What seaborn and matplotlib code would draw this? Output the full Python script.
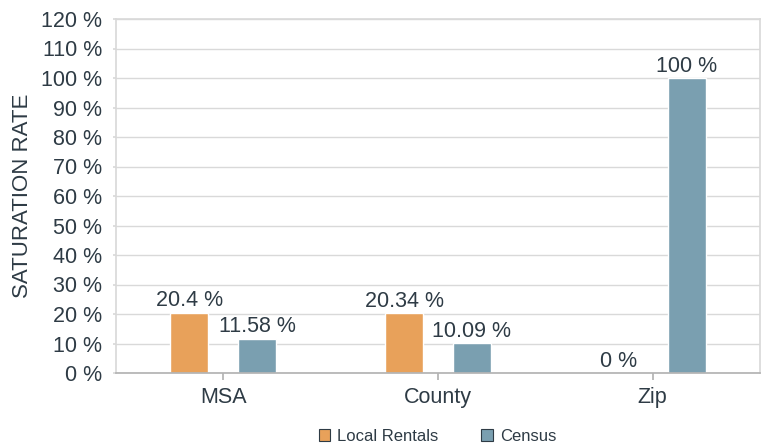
import pandas as pd
import matplotlib.pyplot as plt
import seaborn as sns
from matplotlib.patches import Patch

sns.set_theme(style="white")
plt.rcParams['font.family'] = ['Liberation Sans', 'DejaVu Sans']

categories = ["MSA", "County", "Zip"]
local_rentals = [20.4, 20.34, 0]
census = [11.58, 10.09, 100]
series_names = ["Local Rentals", "Census"]
colors = ["#E8A15A", "#7A9FB0"]
text_color = "#2E3B45"

df = pd.DataFrame({
    "area": categories * 2,
    "value": local_rentals + census,
    "series": [series_names[0]] * 3 + [series_names[1]] * 3,
})

fig = plt.figure(figsize=(7.62, 4.43), dpi=100)
ax = fig.add_axes([116 / 762, 1 - 373 / 443, 644 / 762, 354 / 443])

sns.barplot(
    data=df,
    x="area",
    y="value",
    hue="series",
    palette=colors,
    width=0.632,
    gap=0.44,
    saturation=1,
    legend=False,
    ax=ax
)

for cont in ax.containers:
    labels = [("%g %%" % v) for v in cont.datavalues]
    ax.bar_label(cont, labels=labels, padding=1, fontsize=15.5, color=text_color)

ax.set_ylim(0, 120)
ax.set_yticks(range(0, 121, 10))
ax.set_yticklabels(["%d %%" % t for t in range(0, 121, 10)])
ax.grid(axis="y", color="#D9D9D9", linewidth=1)
ax.set_axisbelow(True)

for side in ["left", "right", "top"]:
    ax.spines[side].set_color("#D9D9D9")
ax.spines["bottom"].set_color("#B3B3B3")

ax.tick_params(axis="y", length=2, color="#D9D9D9", left=True, pad=8,
               labelsize=15.5, labelcolor=text_color)
ax.tick_params(axis="x", length=5, color="#B3B3B3", bottom=True, pad=5,
               labelsize=15.5, labelcolor=text_color)
ax.set_xlabel("")
ax.set_ylabel("SATURATION RATE", fontsize=16, color=text_color, labelpad=6)

handles = [Patch(facecolor=c, edgecolor=text_color, linewidth=0.8) for c in colors]
fig.legend(handles, series_names, loc="lower center", bbox_to_anchor=(0.574, -0.035),
           ncol=2, frameon=False, fontsize=12, handlelength=0.7, handleheight=0.7,
           columnspacing=2.6, handletextpad=0.4, labelcolor=text_color)

fig.savefig("out.png", dpi=100)
